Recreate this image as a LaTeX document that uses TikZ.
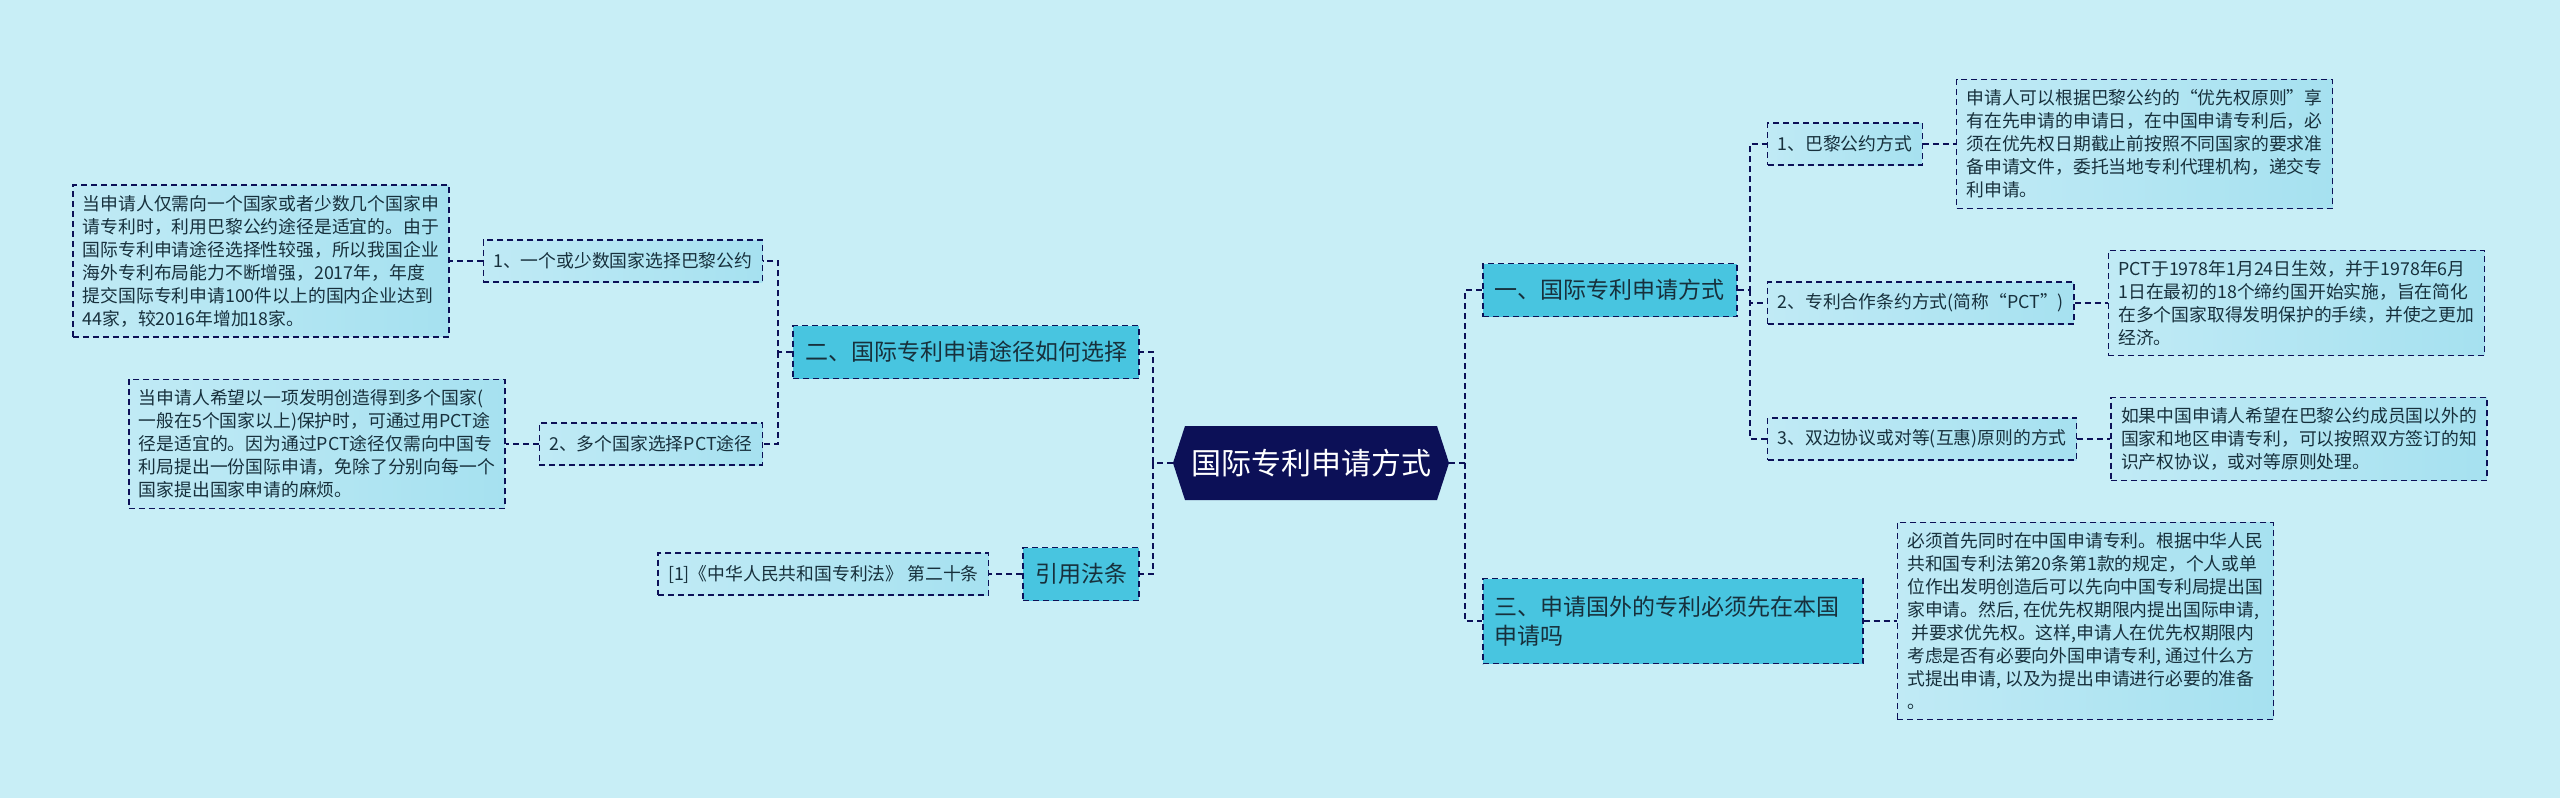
\documentclass[tikz,border=0pt]{standalone}
\usepackage{fontspec}
\setmainfont{Noto Sans CJK SC}
\usetikzlibrary{positioning,shapes.symbols}
\definecolor{bgcol}{HTML}{C8EEF6}
\definecolor{navy}{HTML}{0C1057}
\definecolor{topiccol}{HTML}{48C5E0}
\definecolor{leafa}{HTML}{C0EAF5}
\definecolor{leafb}{HTML}{A6E1F0}
\definecolor{inkcol}{HTML}{17303C}
\tikzstyle{root node}  = [signal, signal to=west and east, signal pointer angle=144, fill=navy, text=white, font=\fontsize{15pt}{18pt}\selectfont, minimum height=37pt, inner xsep=3pt]
\tikzstyle{topic node} = [draw=navy, dash pattern=on 3pt off 2pt, line width=0.8pt, fill=topiccol, text=inkcol, font=\fontsize{11.5pt}{14.5pt}\selectfont, minimum height=26.5pt, inner xsep=6pt, align=left]
\tikzstyle{sub node}   = [draw=navy, dash pattern=on 3pt off 2pt, line width=0.7pt, left color=leafa, right color=leafb, text=inkcol, font=\fontsize{8.9pt}{11.5pt}\selectfont, minimum height=21pt, inner xsep=5pt]
\tikzstyle{leaf node}  = [draw=navy, dash pattern=on 3pt off 2pt, line width=0.7pt, left color=leafa, right color=leafb, text=inkcol, font=\fontsize{8.9pt}{11.5pt}\selectfont, inner sep=5pt, align=left]
\tikzstyle{link}       = [draw=navy, dash pattern=on 3pt off 2pt, line width=0.8pt]

\begin{document}
\begin{tikzpicture}[x=0.5pt, y=-0.5pt, node distance=16.5pt]
\fill[bgcol] (0,0) rectangle (2560,798);
\useasboundingbox (0,0) rectangle (2560,798);

    \node(root)[root node] at (1311,463) {国际专利申请方式};

    % right side
    \node(t1)[topic node, anchor=west] at (1482,290) {一、国际专利申请方式};
    \node(t3)[topic node, anchor=west, minimum height=42.5pt, text width=178pt] at (1482,621) {三、申请国外的专利必须先在本国\\申请吗};

    \node(s1)[sub node, anchor=west] at (1767,144) {1、巴黎公约方式};
    \node(s2)[sub node, anchor=west] at (1767,303) {2、专利合作条约方式(简称“PCT”)};
    \node(s3)[sub node, anchor=west] at (1767,439) {3、双边协议或对等(互惠)原则的方式};

    \node(d1)[leaf node, right=of s1]{申请人可以根据巴黎公约的“优先权原则”享\\有在先申请的申请日，在中国申请专利后，必\\须在优先权日期截止前按照不同国家的要求准\\备申请文件，委托当地专利代理机构，递交专\\利申请。};
    \node(d2)[leaf node, right=of s2]{PCT于1978年1月24日生效，并于1978年6月\\1日在最初的18个缔约国开始实施，旨在简化\\在多个国家取得发明保护的手续，并使之更加\\经济。};
    \node(d3)[leaf node, right=of s3]{如果中国申请人希望在巴黎公约成员国以外的\\国家和地区申请专利，可以按照双方签订的知\\识产权协议，或对等原则处理。};
    \node(d4)[leaf node, right=of t3]{必须首先同时在中国申请专利。根据中华人民\\共和国专利法第20条第1款的规定，个人或单\\位作出发明创造后可以先向中国专利局提出国\\家申请。然后, 在优先权期限内提出国际申请,\\\ 并要求优先权。这样,申请人在优先权期限内\\考虑是否有必要向外国申请专利, 通过什么方\\式提出申请, 以及为提出申请进行必要的准备\\。};

    % left side
    \node(t2)[topic node, anchor=east] at (1140,352) {二、国际专利申请途径如何选择};
    \node(t4)[topic node, anchor=east] at (1140,574) {引用法条};

    \node(l1)[sub node, anchor=east] at (763,261) {1、一个或少数国家选择巴黎公约};
    \node(l2)[sub node, anchor=east] at (763,444) {2、多个国家选择PCT途径};

    \node(e1)[leaf node, left=of l1]{当申请人仅需向一个国家或者少数几个国家申\\请专利时，利用巴黎公约途径是适宜的。由于\\国际专利申请途径选择性较强，所以我国企业\\海外专利布局能力不断增强，2017年，年度\\提交国际专利申请100件以上的国内企业达到\\44家，较2016年增加18家。};
    \node(e2)[leaf node, left=of l2]{当申请人希望以一项发明创造得到多个国家(\\一般在5个国家以上)保护时，可通过用PCT途\\径是适宜的。因为通过PCT途径仅需向中国专\\利局提出一份国际申请，免除了分别向每一个\\国家提出国家申请的麻烦。};
    \node(e3)[sub node, left=of t4]{[1]《中华人民共和国专利法》 第二十条};

    \coordinate(rj) at (1465,463);
    \coordinate(sj) at (1750,290);
    \coordinate(lj) at (1153,463);
    \coordinate(mj) at (778,352);

    \draw[link](root.east)--(rj) |- (t1.west);
    \draw[link](rj) |- (t3.west);
    \draw[link](t1.east)--(sj) |- (s1.west);
    \draw[link](sj) |- (s2.west);
    \draw[link](sj) |- (s3.west);
    \draw[link](s1)--(d1);
    \draw[link](s2)--(d2);
    \draw[link](s3)--(d3);
    \draw[link](t3)--(d4);

    \draw[link](root.west)--(lj) |- (t2.east);
    \draw[link](lj) |- (t4.east);
    \draw[link](t2.west)--(mj) |- (l1.east);
    \draw[link](mj) |- (l2.east);
    \draw[link](l1)--(e1);
    \draw[link](l2)--(e2);
    \draw[link](t4)--(e3);

\end{tikzpicture}
\end{document}
